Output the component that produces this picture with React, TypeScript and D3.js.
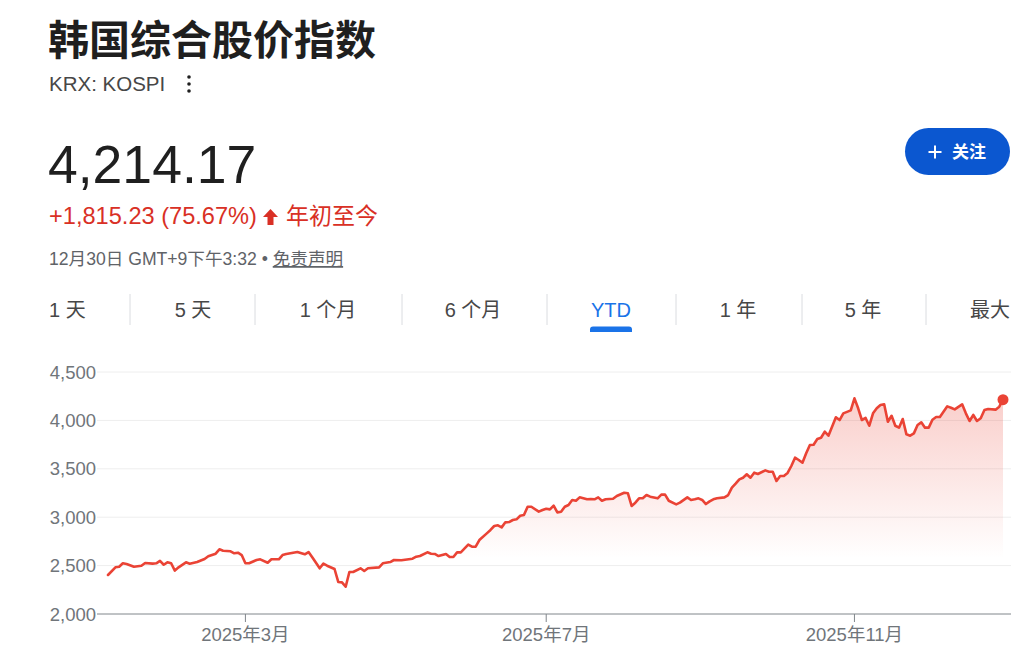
import React from "react";
import * as d3 from "d3";

// Trading-day index (0 = 2025-01-02, 241 = 2025-12-30) and KOSPI close
const dayIdx = [
  0, 2, 3, 4, 5, 7, 9, 10, 12, 13, 14, 15, 16, 17, 18, 19, 21, 22, 24, 26, 27, 29, 30, 31, 33, 34, 35, 36, 37, 38, 40, 41,
  43, 44, 46, 47, 48, 51, 53, 54, 55, 57, 58, 59, 61, 62, 63, 64, 65, 66, 68, 69, 70, 73, 74, 76, 77, 79, 80,
  82, 83, 84, 86, 87, 88, 89, 91, 92, 93, 94, 95, 97, 98, 99, 100, 102, 103, 104, 105, 106, 107, 108, 109, 110, 111, 112, 113, 114, 116, 117,
  118, 119, 120, 121, 122, 123, 124, 125, 126, 127, 129, 130, 131, 132, 133, 134, 136, 137, 139, 140, 141, 142, 143, 144, 145, 146, 148, 149, 150,
  151, 153, 154, 156, 157, 158, 159, 160, 161, 162, 163, 164, 166, 167, 168, 169, 170, 171, 172, 173, 174, 175, 177, 178, 179, 180, 181, 182,
  183, 184, 185, 186, 187, 188, 189, 190, 191, 192, 193, 194, 196, 197, 198, 200, 201, 202, 203, 204, 205, 206, 207, 208, 209, 210, 211, 212,
  213, 214, 215, 216, 217, 218, 219, 220, 221, 222, 223, 224, 226, 227, 228, 230, 231, 232, 233, 234, 235, 236, 237, 239, 240, 241,
];
const closes = [
  2403, 2482, 2489, 2524, 2516, 2489, 2499, 2527, 2520, 2524, 2548, 2509, 2534, 2524, 2448, 2482, 2534, 2520, 2537, 2568, 2596, 2623, 2668, 2654, 2648, 2627, 2633, 2609, 2524, 2524, 2558, 2565,
  2530, 2565, 2565, 2609, 2620, 2640, 2617, 2640, 2586, 2472, 2520, 2499, 2465, 2331, 2327, 2282, 2434, 2434, 2472, 2444, 2472, 2482, 2524, 2537, 2558, 2555, 2561,
  2571, 2592, 2599, 2637, 2623, 2620, 2599, 2620, 2589, 2589, 2637, 2637, 2716, 2695, 2695, 2764, 2833, 2868, 2909, 2916, 2895, 2947, 2950, 2971, 2978, 3015, 3023, 3108, 3108, 3057, 3074,
  3088, 3081, 3119, 3050, 3057, 3108, 3126, 3178, 3170, 3205, 3185, 3188, 3185, 3205, 3170, 3185, 3191, 3219, 3253, 3247, 3116, 3150, 3195, 3195, 3229, 3212, 3195, 3233, 3233,
  3170, 3133, 3150, 3205, 3178, 3185, 3195, 3178, 3136, 3164, 3185, 3195, 3205, 3229, 3305, 3346, 3391, 3408, 3443, 3408, 3460, 3446, 3484, 3470, 3470, 3374, 3426, 3426,
  3457, 3529, 3615, 3591, 3563, 3660, 3746, 3749, 3808, 3821, 3883, 3842, 4032, 4004, 4073, 4104, 4228, 4125, 4004, 4025, 3945, 4073, 4125, 4159, 4166, 3986, 4048, 3945,
  3925, 4014, 3856, 3842, 3866, 3952, 3980, 3925, 3925, 4007, 4035, 4035, 4145, 4131, 4114, 4166, 4073, 3994, 4056, 3994, 4022, 4107, 4118, 4111, 4142, 4214.17,
];

const yTicks = [2000, 2500, 3000, 3500, 4000, 4500];
const xTickIdx = [37, 118, 201];
const xTickLabels = ["2025年3月", "2025年7月", "2025年11月"];
const tabLabels = ["1 天", "5 天", "1 个月", "6 个月", "YTD", "1 年", "5 年", "最大"];

const LATIN = "Arial, 'Liberation Sans', 'Noto Sans CJK SC', sans-serif";
const CJK = "'Noto Sans CJK SC', Arial, sans-serif";

export default function App() {
  const x = d3.scaleLinear().domain([0, 241]).range([108, 1003]);
  const y = d3.scaleLinear().domain([2000, 4500]).range([614, 372]);
  const data = dayIdx.map((d, i) => ({ d, v: closes[i] }));
  const line = d3.line<any>().x((p) => x(p.d)).y((p) => y(p.v));
  const areaBase = 2575;
  const area = d3.area<any>().x((p) => x(p.d)).y0(y(areaBase)).y1((p) => y(p.v));
  const last = data[data.length - 1];

  const tabCenters = [68, 193, 328, 473, 611, 738, 863, 990];
  const seps = [130, 255, 402, 547, 676, 802, 926];

  return (
    <svg width={1024} height={671} style={{ position: "absolute", left: 0, top: 0, background: "#fff" }}>
      <defs>
        <linearGradient id="fillGrad" gradientUnits="userSpaceOnUse" x1="0" y1={y(4250)} x2="0" y2={y(areaBase)}>
          <stop offset="0" stopColor="#ea4335" stopOpacity={0.26} />
          <stop offset="1" stopColor="#ea4335" stopOpacity={0} />
        </linearGradient>
      </defs>

      {/* Header */}
      <text x={48} y={55} fontFamily={CJK} fontSize={41} fontWeight={600} fill="#1f1f1f">韩国综合股价指数</text>
      <text x={49} y={91} fontFamily={LATIN} fontSize={20.5} fill="#474747">KRX: KOSPI</text>
      {[77, 84, 91].map((cy) => (
        <circle key={cy} cx={189} cy={cy} r={1.8} fill="#1f1f1f" />
      ))}
      <text x={48} y={183} fontFamily={LATIN} fontSize={53.5} fill="#1f1f1f">4,214.17</text>
      <text x={49} y={224} fontFamily={LATIN} fontSize={23.6} fill="#d93025">+1,815.23 (75.67%)</text>
      <path d="M270.5,209 L278,217 L273.5,217 L273.5,225 L267.5,225 L267.5,217 L263,217 Z" fill="#d93025" />
      <text x={286} y={224} fontFamily={CJK} fontSize={23} fill="#d93025">年初至今</text>
      <text x={49} y={265} fontFamily={LATIN} fontSize={17.6} fill="#5f6368">
        12月30日 GMT+9下午3:32 •{" "}
        <tspan textDecoration="underline">免责声明</tspan>
      </text>

      {/* Follow button */}
      <rect x={905} y={128} width={105} height={47} rx={23.5} fill="#0b57d0" />
      <path d="M935,145.5 V158.5 M928.5,152 H941.5" stroke="#fff" strokeWidth={2} />
      <text x={952} y={158} fontFamily={CJK} fontSize={17} fontWeight={600} fill="#fff">关注</text>

      {/* Tabs */}
      {tabLabels.map((t, i) => (
        <text
          key={t}
          x={i === 0 ? 49 : i === tabLabels.length - 1 ? 1010 : tabCenters[i]}
          y={317}
          textAnchor={i === 0 ? "start" : i === tabLabels.length - 1 ? "end" : "middle"}
          fontFamily={LATIN}
          fontSize={20}
          fontWeight={t === "YTD" ? 500 : 400}
          fill={t === "YTD" ? "#1a73e8" : "#474747"}
        >
          {t}
        </text>
      ))}
      {seps.map((sx) => (
        <line key={sx} x1={sx} x2={sx} y1={294} y2={325} stroke="#dadce0" strokeWidth={1} />
      ))}
      <path d="M590,332 V329.5 Q590,326.5 593,326.5 H629 Q632,326.5 632,329.5 V332 Z" fill="#1a73e8" />

      {/* Grid */}
      {yTicks.map((t) => (
        <g key={t}>
          {t !== 2000 && (
            <line x1={97} x2={1011} y1={y(t)} y2={y(t)} stroke="#eeeeee" strokeWidth={1} />
          )}
          <text x={96} y={y(t) + 6.5} textAnchor="end" fontFamily={LATIN} fontSize={18.5} fill="#70757a">
            {d3.format(",")(t)}
          </text>
        </g>
      ))}

      {/* Area + line */}
      <path d={area(data) || ""} fill="url(#fillGrad)" />
      <path d={line(data) || ""} fill="none" stroke="#ea4335" strokeWidth={2.6} strokeLinejoin="round" strokeLinecap="round" />
      <circle cx={x(last.d)} cy={y(last.v)} r={5.5} fill="#ea4335" />

      {/* X axis */}
      <line x1={97} x2={1011} y1={y(2000)} y2={y(2000)} stroke="#80868b" strokeWidth={1} />
      {xTickIdx.map((d, i) => (
        <g key={d}>
          <line x1={x(d)} x2={x(d)} y1={y(2000)} y2={y(2000) + 8} stroke="#80868b" strokeWidth={1} />
          <text x={x(d)} y={641} textAnchor="middle" fontFamily={LATIN} fontSize={18.5} fill="#70757a">
            {xTickLabels[i]}
          </text>
        </g>
      ))}
    </svg>
  );
}
